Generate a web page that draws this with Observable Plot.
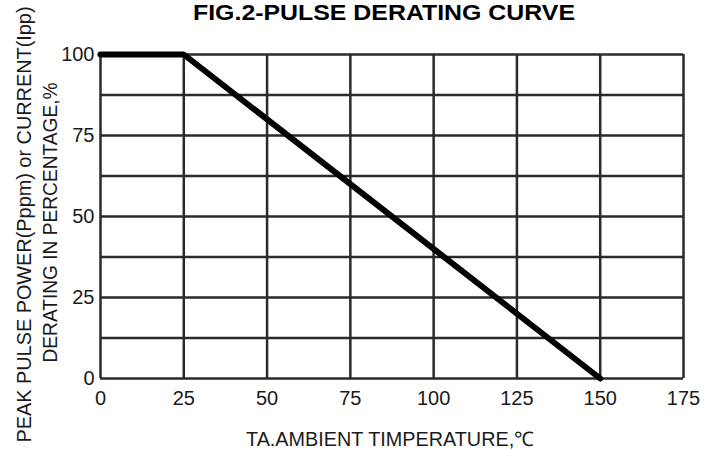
<!DOCTYPE html>
<html>
<head>
<meta charset="utf-8">
<script src="https://cdn.jsdelivr.net/npm/d3@7"></script>
<script src="https://cdn.jsdelivr.net/npm/@observablehq/plot@0.6"></script>
<style>
  html, body { margin: 0; padding: 0; background: #fff; }
</style>
</head>
<body>
<div id="chart"></div>
<script>
const title = "FIG.2-PULSE DERATING CURVE";
const xLabel = "TA.AMBIENT TIMPERATURE,\u2103";
const yLabel1 = "PEAK PULSE POWER(Pppm) or CURRENT(Ipp)";
const yLabel2 = "DERATING IN PERCENTAGE,%";
const xTicks = [0, 25, 50, 75, 100, 125, 150, 175];
const yTicks = [0, 25, 50, 75, 100];
const yGrid = [0, 12.5, 25, 37.5, 50, 62.5, 75, 87.5, 100];
const curveT = [0, 25, 150];
const curveP = [100, 100, 0];

const curve = curveT.map((t, i) => ({t, p: curveP[i]}));
const font = "'Liberation Sans', Arial, sans-serif";

const chart = Plot.plot({
  width: 717,
  height: 450,
  marginLeft: 100,
  marginRight: 34,
  marginTop: 54,
  marginBottom: 72,
  style: {fontFamily: font, color: "#1a1a1a", background: "#fff"},
  x: {domain: [0, 175], label: null},
  y: {domain: [0, 100], label: null},
  marks: [
    Plot.gridX(xTicks, {stroke: "#2a2a2a", strokeOpacity: 1, strokeWidth: 2.5}),
    Plot.gridY(yGrid, {stroke: "#2a2a2a", strokeOpacity: 1, strokeWidth: 2.5}),
    Plot.line(curve, {x: "t", y: "p", stroke: "#000", strokeWidth: 6, strokeLinejoin: "miter"}),
    Plot.axisX({ticks: xTicks, tickSize: 0, tickPadding: 12, fontSize: 20, label: null}),
    Plot.axisY({ticks: yTicks, tickSize: 0, tickPadding: 6, fontSize: 20, label: null}),
    Plot.text([title], {frameAnchor: "top", dx: -8, dy: -35, lineAnchor: "bottom", fontSize: 22, fontWeight: "bold", fill: "#000"}),
    Plot.text([xLabel], {frameAnchor: "bottom", dx: -2, dy: 67, lineAnchor: "bottom", fontSize: 20, fill: "#1a1a1a"}),
    Plot.text([yLabel1], {frameAnchor: "left", dx: -76, dy: 8, rotate: -90, textAnchor: "middle", lineAnchor: "middle", fontSize: 20, fill: "#1a1a1a"}),
    Plot.text([yLabel2], {frameAnchor: "left", dx: -50, dy: 6, rotate: -90, textAnchor: "middle", lineAnchor: "middle", fontSize: 20, fill: "#1a1a1a"})
  ]
});

// match the reference lettering widths
const lengths = new Map([[title, 382], [xLabel, 288], [yLabel1, 436], [yLabel2, 280]]);
d3.select(chart).selectAll("text").each(function() {
  const len = lengths.get(this.textContent);
  if (len) d3.select(this).attr("textLength", len).attr("lengthAdjust", "spacingAndGlyphs");
});
document.getElementById("chart").appendChild(chart);
</script>
</body>
</html>
